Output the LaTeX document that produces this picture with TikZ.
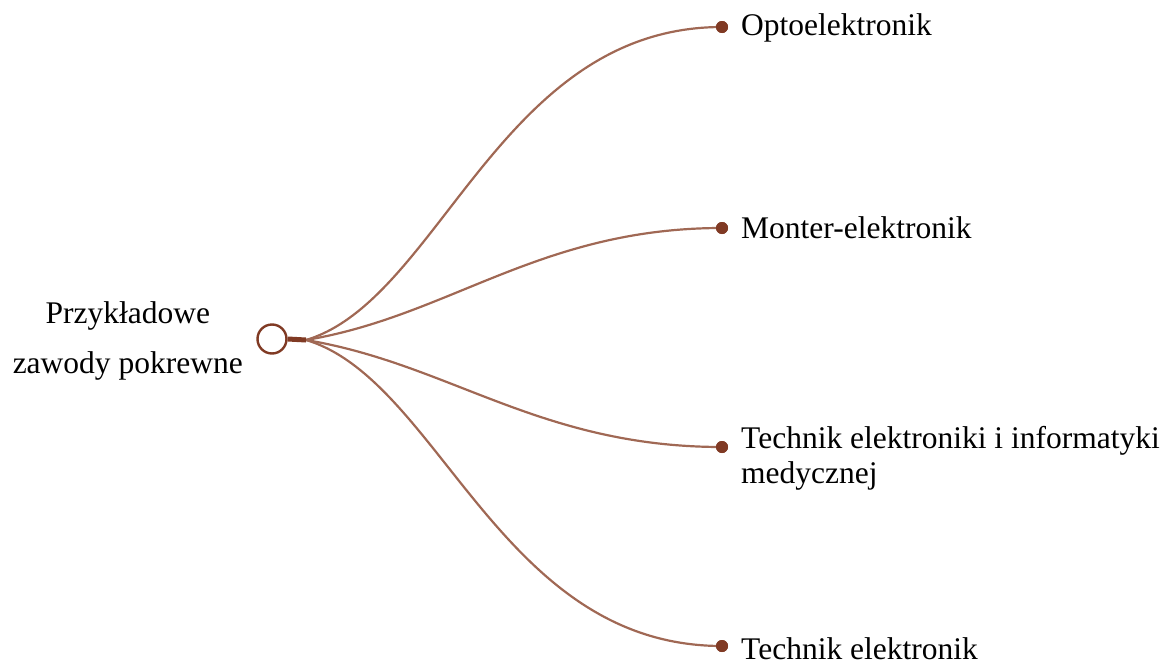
\documentclass[tikz,border=0pt]{standalone}
\usepackage{fontspec}
\setmainfont{Liberation Serif}
\usetikzlibrary{positioning}
\definecolor{mybrown}{RGB}{128,58,36}
\definecolor{mylink}{RGB}{160,104,84}

\begin{document}
\begin{tikzpicture}[
  x=1pt,y=-1pt,
  mytext/.style={
    inner sep=0pt,
    font=\fontsize{31.5}{35}\selectfont,
    align=left
  },
  myroot/.style={
    circle,
    draw=mybrown,
    line width=2.4pt,
    fill=white,
    minimum size=29pt,
    inner sep=0pt
  },
  mydot/.style={
    circle,
    fill=mybrown,
    minimum size=12pt,
    inner sep=0pt
  },
  mylink/.style={
    draw=mylink,
    line width=2.2pt
  }
]
\useasboundingbox (0,0) rectangle (1173,664);

% root
\node[myroot] (root) at (272,339) {};
\coordinate (hub) at (306,340);
\node[mytext, align=center, anchor=base east,
  font=\fontsize{31.5}{50}\selectfont] (rootlabel) at (243,373)
  {Przykładowe\\zawody pokrewne};

% leaves
\node[mydot] (opto) at (722,27) {};
\node[mydot] (monter) at (722,228) {};
\node[mydot] (medyk) at (722,447) {};
\node[mydot] (tech) at (722,646) {};

\node[mytext, anchor=base west] (optolabel) at (741,35) {Optoelektronik};
\node[mytext, anchor=base west] (monterlabel) at (741,238) {Monter-elektronik};
\node[mytext, anchor=base west] (medyklabel) at (741,483)
  {Technik elektroniki i informatyki\\medycznej};
\node[mytext, anchor=base west] (techlabel) at (741,659) {Technik elektronik};

% links
\draw[mylink] (hub) .. controls (440,300) and (500,27) .. (opto.center);
\draw[mylink] (hub) .. controls (450,316) and (540,228) .. (monter.center);
\draw[mylink] (hub) .. controls (450,364) and (540,447) .. (medyk.center);
\draw[mylink] (hub) .. controls (440,380) and (500,646) .. (tech.center);
\draw[draw=mybrown, line width=5pt] (root.east) -- (hub);
\node[mydot] at (opto) {};
\node[mydot] at (monter) {};
\node[mydot] at (medyk) {};
\node[mydot] at (tech) {};

\end{tikzpicture}
\end{document}
